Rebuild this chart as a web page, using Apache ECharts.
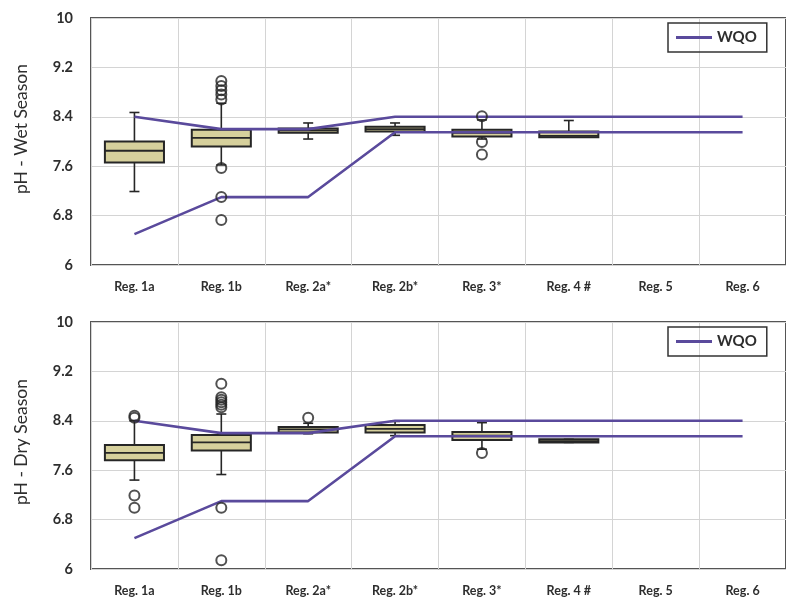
<!DOCTYPE html>
<html>
<head>
<meta charset="utf-8">
<script src="https://cdn.jsdelivr.net/npm/echarts@6/dist/echarts.min.js"></script>
<style>
  html, body { margin: 0; padding: 0; background: #ffffff; }
  #chart { width: 786px; height: 602px; }
</style>
</head>
<body>
<div id="chart"></div>
<script>
// Sampling regions along the x axis
const categories = ['Reg. 1a', 'Reg. 1b', 'Reg. 2a*', 'Reg. 2b*', 'Reg. 3*', 'Reg. 4 #', 'Reg. 5', 'Reg. 6'];

// Water quality objective range (upper and lower pH limits) per region
const wqoUpper = [8.4, 8.2, 8.2, 8.4, 8.4, 8.4, 8.4, 8.4];
const wqoLower = [6.5, 7.1, 7.1, 8.15, 8.15, 8.15, 8.15, 8.15];

// Box statistics per region: [region index, lower whisker, Q1, median, Q3, upper whisker]
const wetBoxes = [
  [0, 7.19, 7.66, 7.85, 8.00, 8.47],
  [1, 7.62, 7.92, 8.06, 8.19, 8.62],
  [2, 8.04, 8.14, 8.18, 8.21, 8.30],
  [3, 8.10, 8.16, 8.20, 8.24, 8.30],
  [4, 8.04, 8.08, 8.14, 8.19, 8.35],
  [5, 8.07, 8.07, 8.09, 8.16, 8.34]
];
const dryBoxes = [
  [0, 7.44, 7.76, 7.88, 8.01, 8.40],
  [1, 7.53, 7.92, 8.05, 8.17, 8.51],
  [2, 8.19, 8.21, 8.26, 8.30, 8.36],
  [3, 8.16, 8.21, 8.27, 8.33, 8.39],
  [4, 7.94, 8.09, 8.16, 8.22, 8.37],
  [5, 8.05, 8.05, 8.07, 8.10, 8.10]
];

// Outlying samples: [region index, pH]
const wetOutliers = [
  [1, 8.98], [1, 8.90], [1, 8.83], [1, 8.76], [1, 8.68],
  [1, 7.57], [1, 7.10], [1, 6.73],
  [4, 8.41], [4, 7.99], [4, 7.79]
];
const dryOutliers = [
  [0, 8.48], [0, 8.45], [0, 7.19], [0, 6.99],
  [1, 9.00], [1, 8.78], [1, 8.74], [1, 8.70], [1, 8.66], [1, 8.62],
  [1, 6.99], [1, 6.14],
  [2, 8.45],
  [4, 7.88]
];

const FONT = 'Lato, "Open Sans", sans-serif';
const INK = '#262626';
const WQO_COLOR = '#5a4a9c';

// Box-and-whisker glyph with short whisker caps
function renderBox(params, api) {
  const i = api.value(0);
  const lo = api.coord([i, api.value(1)]);
  const q1 = api.coord([i, api.value(2)]);
  const md = api.coord([i, api.value(3)]);
  const q3 = api.coord([i, api.value(4)]);
  const hi = api.coord([i, api.value(5)]);
  const band = api.size([1, 0])[0];
  const w = band * 0.68;
  const cap = 10;
  const cx = q1[0];
  const stroke = { stroke: INK, lineWidth: 1.6 };
  return {
    type: 'group',
    children: [
      { type: 'line', shape: { x1: cx, y1: hi[1], x2: cx, y2: q3[1] }, style: stroke },
      { type: 'line', shape: { x1: cx, y1: q1[1], x2: cx, y2: lo[1] }, style: stroke },
      { type: 'line', shape: { x1: cx - cap / 2, y1: hi[1], x2: cx + cap / 2, y2: hi[1] }, style: stroke },
      { type: 'line', shape: { x1: cx - cap / 2, y1: lo[1], x2: cx + cap / 2, y2: lo[1] }, style: stroke },
      { type: 'rect', shape: { x: cx - w / 2, y: q3[1], width: w, height: q1[1] - q3[1] },
        style: { fill: '#d6d09c', stroke: INK, lineWidth: 2 } },
      { type: 'line', shape: { x1: cx - w / 2, y1: md[1], x2: cx + w / 2, y2: md[1] }, style: { stroke: INK, lineWidth: 1.8 } }
    ]
  };
}

function xAxisFor(gridIndex) {
  return {
    type: 'category', gridIndex: gridIndex, data: categories, boundaryGap: true,
    axisLine: { show: false }, axisTick: { show: false },
    axisLabel: { margin: 15, fontFamily: FONT, fontSize: 12.5, fontWeight: 'bold', color: '#2e2e2e' },
    splitLine: { show: true, interval: 0, lineStyle: { color: '#d4d4d4', width: 1 } }
  };
}
function yAxisFor(gridIndex) {
  return {
    type: 'value', gridIndex: gridIndex, min: 6, max: 10, interval: 0.8,
    axisLine: { show: false }, axisTick: { show: false },
    axisLabel: {
      margin: 18, fontFamily: FONT, fontSize: 14.5, fontWeight: 'bold', color: '#2e2e2e',
      formatter: function (v) { return String(Math.round(v * 10) / 10); }
    },
    splitLine: { show: true, lineStyle: { color: '#d4d4d4', width: 1 } }
  };
}
function seasonSeries(idx, boxes, outliers) {
  return [
    {
      type: 'custom', xAxisIndex: idx, yAxisIndex: idx, z: 2,
      renderItem: renderBox, data: boxes, encode: { x: 0, y: [1, 2, 3, 4, 5] }
    },
    {
      name: 'WQO', type: 'line', xAxisIndex: idx, yAxisIndex: idx, z: 3,
      data: wqoUpper, symbol: 'none', lineStyle: { color: WQO_COLOR, width: 2.6 }, itemStyle: { color: WQO_COLOR }
    },
    {
      name: 'WQO', type: 'line', xAxisIndex: idx, yAxisIndex: idx, z: 3,
      data: wqoLower, symbol: 'none', lineStyle: { color: WQO_COLOR, width: 2.6 }, itemStyle: { color: WQO_COLOR }
    },
    {
      type: 'scatter', xAxisIndex: idx, yAxisIndex: idx, z: 4,
      data: outliers, symbol: 'circle', symbolSize: 10,
      itemStyle: { color: 'rgba(255,255,255,0)', borderColor: INK, borderWidth: 2 }
    }
  ];
}
function legendAt(top) {
  return {
    left: 668, top: top,
    data: [{ name: 'WQO', icon: 'rect', itemStyle: { color: WQO_COLOR } }],
    orient: 'horizontal', itemWidth: 36, itemHeight: 3,
    padding: [7, 10, 7, 8], borderColor: '#333', borderWidth: 1.5,
    textStyle: { fontFamily: FONT, fontSize: 15, fontWeight: 'bold', color: '#2e2e2e' },
    selectedMode: false
  };
}
function axisTitle(text, y) {
  return {
    type: 'text', x: 21, y: y, rotation: Math.PI / 2,
    style: { text: text, fontFamily: FONT, fontSize: 17.5, fill: '#2e2e2e', textAlign: 'center', textVerticalAlign: 'middle' }
  };
}

const chart = echarts.init(document.getElementById('chart'), null, { renderer: 'canvas' });
chart.setOption({
  backgroundColor: '#ffffff',
  animation: false,
  grid: [
    { left: 91, right: -9, top: 18, height: 247, show: true, borderColor: '#555', borderWidth: 2, backgroundColor: 'transparent' },
    { left: 91, right: -9, top: 322, height: 247, show: true, borderColor: '#555', borderWidth: 2, backgroundColor: 'transparent' }
  ],
  legend: [legendAt(23), legendAt(327)],
  xAxis: [xAxisFor(0), xAxisFor(1)],
  yAxis: [yAxisFor(0), yAxisFor(1)],
  graphic: [axisTitle('pH - Wet Season', 129), axisTitle('pH - Dry Season', 442)],
  series: seasonSeries(0, wetBoxes, wetOutliers).concat(seasonSeries(1, dryBoxes, dryOutliers))
});
</script>
</body>
</html>
